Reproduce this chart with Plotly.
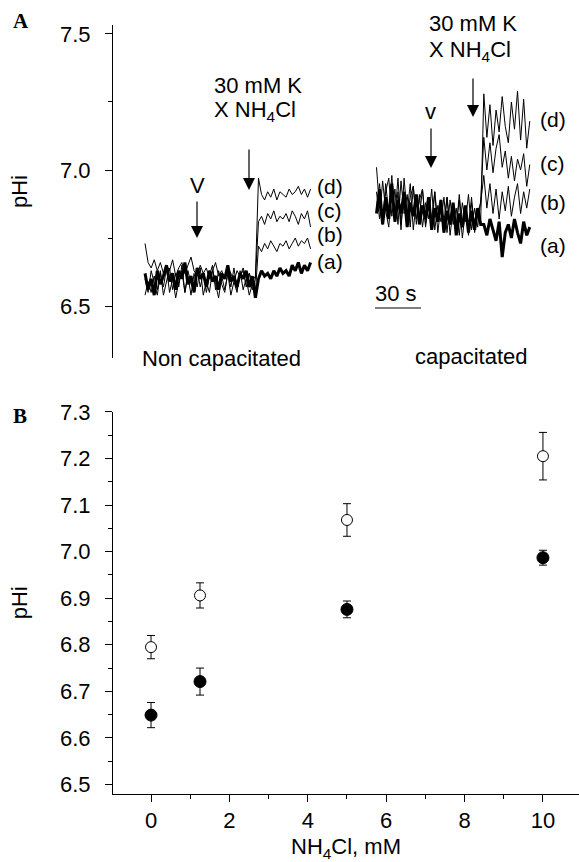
import plotly.graph_objects as go

# ---------------- data ----------------
# Panel A: pHi traces (sampled every 2 s); non capacitated
nc_a = [6.62, 6.56, 6.60, 6.54, 6.63, 6.58, 6.61, 6.65, 6.59, 6.62, 6.56, 6.63, 6.60, 6.66, 6.58, 6.61, 6.55, 6.64,
        6.60, 6.62, 6.57, 6.63, 6.59, 6.61, 6.56, 6.62, 6.60, 6.65, 6.59, 6.61, 6.57, 6.62, 6.60, 6.63, 6.57, 6.61, 6.53,
        6.60, 6.63, 6.61, 6.62, 6.60, 6.63, 6.61, 6.64, 6.62, 6.63, 6.61, 6.65, 6.63, 6.66, 6.62, 6.65, 6.63, 6.66]
nc_b = [6.60, 6.55, 6.63, 6.58, 6.54, 6.62, 6.57, 6.64, 6.55, 6.60, 6.53, 6.59, 6.63, 6.55, 6.61, 6.54, 6.62, 6.57,
        6.64, 6.54, 6.59, 6.55, 6.63, 6.58, 6.53, 6.61, 6.56, 6.62, 6.54, 6.59, 6.55, 6.63, 6.56, 6.60, 6.54, 6.58, 6.55,
        6.72, 6.70, 6.73, 6.71, 6.74, 6.72, 6.70, 6.73, 6.72, 6.74, 6.71, 6.73, 6.75, 6.72, 6.74, 6.73, 6.75, 6.71]
nc_c = [6.54, 6.59, 6.55, 6.61, 6.56, 6.63, 6.54, 6.59, 6.64, 6.56, 6.62, 6.57, 6.65, 6.55, 6.63, 6.58, 6.56, 6.64,
        6.57, 6.62, 6.55, 6.61, 6.65, 6.56, 6.63, 6.58, 6.55, 6.62, 6.57, 6.64, 6.56, 6.61, 6.63, 6.57, 6.62, 6.56, 6.60,
        6.81, 6.83, 6.80, 6.84, 6.82, 6.85, 6.81, 6.83, 6.82, 6.84, 6.81, 6.85, 6.83, 6.80, 6.84, 6.82, 6.85, 6.79]
nc_d = [6.73, 6.66, 6.64, 6.67, 6.63, 6.66, 6.62, 6.65, 6.63, 6.67, 6.61, 6.64, 6.66, 6.62, 6.65, 6.68, 6.63, 6.61,
        6.65, 6.62, 6.64, 6.60, 6.63, 6.66, 6.61, 6.63, 6.60, 6.64, 6.62, 6.59, 6.63, 6.61, 6.64, 6.60, 6.62, 6.59, 6.61,
        6.97, 6.91, 6.89, 6.92, 6.90, 6.93, 6.89, 6.92, 6.91, 6.90, 6.93, 6.91, 6.92, 6.94, 6.91, 6.93, 6.90, 6.93]

# capacitated
cap_a = [6.84, 6.93, 6.80, 6.90, 6.82, 6.95, 6.81, 6.89, 6.84, 6.92, 6.79, 6.88, 6.83, 6.91, 6.80, 6.87, 6.82, 6.90,
         6.78, 6.86, 6.81, 6.89, 6.77, 6.85, 6.80, 6.88, 6.76, 6.84, 6.79, 6.87, 6.77, 6.85, 6.78, 6.86, 6.80,
         6.80, 6.76, 6.82, 6.78, 6.74, 6.81, 6.68, 6.77, 6.80, 6.75, 6.82, 6.77, 6.73, 6.81, 6.76, 6.79]
cap_b = [6.92, 6.82, 6.96, 6.85, 6.79, 6.94, 6.83, 6.97, 6.80, 6.91, 6.84, 6.95, 6.78, 6.89, 6.83, 6.93, 6.79, 6.88,
         6.82, 6.92, 6.77, 6.87, 6.81, 6.90, 6.76, 6.86, 6.80, 6.89, 6.75, 6.85, 6.79, 6.90, 6.77, 6.84, 6.88,
         6.98, 6.86, 6.95, 6.84, 6.93, 6.82, 6.92, 6.85, 6.94, 6.83, 6.90, 6.95, 6.84, 6.92, 6.86, 6.93]
cap_c = [7.01, 6.86, 6.80, 6.95, 6.84, 6.98, 6.81, 6.92, 6.78, 6.97, 6.83, 6.90, 6.94, 6.80, 6.91, 6.79, 6.88, 6.82,
         6.93, 6.78, 6.87, 6.81, 6.90, 6.77, 6.89, 6.80, 6.86, 6.76, 6.88, 6.81, 6.91, 6.78, 6.86, 6.79, 6.89,
         7.12, 7.00, 7.10, 6.99, 7.08, 7.13, 7.01, 7.07, 6.97, 7.05, 6.96, 7.04, 7.00, 7.06, 6.94, 7.02]
cap_d = [6.86, 6.95, 6.81, 6.92, 6.97, 6.83, 6.93, 6.80, 6.96, 6.84, 6.91, 6.79, 6.94, 6.82, 6.89, 6.93, 6.80, 6.88,
         6.78, 6.92, 6.81, 6.89, 6.77, 6.90, 6.80, 6.87, 6.78, 6.91, 6.79, 6.86, 6.76, 6.88, 6.80, 6.85, 6.82,
         7.28, 7.12, 7.24, 7.09, 7.22, 7.14, 7.27, 7.16, 7.10, 7.25, 7.15, 7.29, 7.11, 7.26, 7.08, 7.18]

sample_dt = 2          # s between samples
cap_start = 151        # s, start of the capacitated record on the time axis
trace_labels = ["(a)", "(b)", "(c)", "(d)"]

# Panel B: pHi vs NH4Cl
nh4cl = [0, 1.25, 5, 10]
cap_mean = [6.795, 6.906, 7.068, 7.205]
cap_err = [0.025, 0.027, 0.035, 0.051]
noncap_mean = [6.649, 6.721, 6.876, 6.987]
noncap_err = [0.027, 0.029, 0.018, 0.016]

# ---------------- figure ----------------
W, H = 579, 862
FONT = "Liberation Sans, Arial, sans-serif"


def fx(px):
    return px / W


def fy(py):
    return 1 - py / H


fig = go.Figure()

nc_traces = [nc_a, nc_b, nc_c, nc_d]
cap_traces = [cap_a, cap_b, cap_c, cap_d]
for lbl, vals in zip(trace_labels[::-1], nc_traces[::-1]):
    thick = lbl == "(a)"
    fig.add_trace(go.Scatter(
        x=[i * sample_dt for i in range(len(vals))], y=vals, mode="lines",
        line=dict(color="black", width=3 if thick else 1),
        name="Non capacitated " + lbl, xaxis="x", yaxis="y", hoverinfo="skip"))
for lbl, vals in zip(trace_labels[::-1], cap_traces[::-1]):
    thick = lbl == "(a)"
    fig.add_trace(go.Scatter(
        x=[cap_start + i * sample_dt for i in range(len(vals))], y=vals, mode="lines",
        line=dict(color="black", width=3 if thick else 1),
        name="capacitated " + lbl, xaxis="x", yaxis="y", hoverinfo="skip"))

# Panel B
fig.add_trace(go.Scatter(
    x=nh4cl, y=noncap_mean, mode="markers", name="non capacitated",
    marker=dict(symbol="circle", size=12, color="black", line=dict(color="black", width=1)),
    error_y=dict(type="data", array=noncap_err, color="black", thickness=1, width=4),
    xaxis="x2", yaxis="y2"))
fig.add_trace(go.Scatter(
    x=nh4cl, y=cap_mean, mode="markers", name="capacitated",
    marker=dict(symbol="circle", size=11, color="white", line=dict(color="black", width=1)),
    error_y=dict(type="data", array=cap_err, color="black", thickness=1, width=4),
    xaxis="x2", yaxis="y2"))

ann = []


def text(px, py, s, size=22, xanchor="center", family=FONT):
    ann.append(dict(x=fx(px), y=fy(py), xref="paper", yref="paper", text=s, showarrow=False,
                    xanchor=xanchor, yanchor="middle", font=dict(family=family, size=size, color="black")))


def arrow(px, py_tip, length):
    ann.append(dict(x=fx(px), y=fy(py_tip), xref="paper", yref="paper", text="", showarrow=True,
                    ax=0, ay=-length, arrowhead=2, arrowsize=2, arrowwidth=1.2, arrowcolor="black"))


text(21, 21, "<b>A</b>", size=21, family="Liberation Serif, Times New Roman, serif")
text(20, 416, "<b>B</b>", size=21, family="Liberation Serif, Times New Roman, serif")

# non capacitated annotations
text(212, 86, "30 mM K", xanchor="left")
text(212, 111, "X NH<sub>4</sub>Cl", xanchor="left")
arrow(249, 190, 42)
text(197, 185, "V", size=22)
arrow(197, 238, 38)
for lbl, py in zip(trace_labels, [261, 234, 210, 186]):
    text(315, py, lbl, size=21, xanchor="left")

# capacitated annotations
text(427, 24, "30 mM K", xanchor="left")
text(427, 51, "X NH<sub>4</sub>Cl", xanchor="left")
arrow(473, 117, 40)
text(430, 111, "v", size=22)
arrow(431, 168, 41)
for lbl, py in zip(trace_labels, [245, 202, 163, 120]):
    text(538, py, lbl, size=21, xanchor="left")

text(396, 293, "30 s")
text(221, 358, "Non capacitated")
text(471, 356, "capacitated")

fig.add_shape(type="line", xref="x", yref="y", x0=cap_start - 1, x1=cap_start + 29, y0=6.4926, y1=6.4926,
              line=dict(color="#555555", width=1.5))

axis_font = dict(family=FONT, size=22, color="black")

fig.update_layout(
    width=W, height=H, margin=dict(l=0, r=0, t=0, b=0),
    paper_bgcolor="white", plot_bgcolor="white", showlegend=False,
    font=dict(family=FONT, size=22, color="black"),
    annotations=ann,
    xaxis=dict(domain=[fx(113), 1], range=[-20.9, 283.1], visible=False, anchor="y"),
    yaxis=dict(domain=[fy(358), fy(25)], range=[6.309, 7.533], anchor="x",
               tick0=6.5, dtick=0.5, tickformat=".1f", ticks="outside", ticklen=7, tickwidth=1,
               tickcolor="black", showline=True, linecolor="black", linewidth=1,
               showgrid=False, zeroline=False, tickfont=axis_font, ticklabelstandoff=10,
               minor=dict(dtick=0.25, ticks="outside", ticklen=4, tickcolor="black"),
               title=dict(text="pHi", font=axis_font, standoff=26), automargin=False),
    xaxis2=dict(domain=[fx(113), 1], range=[-0.97, 10.92], anchor="y2",
                tick0=0, dtick=2, ticks="outside", ticklen=7, tickwidth=1, tickcolor="black",
                showline=True, linecolor="black", linewidth=1, showgrid=False, zeroline=False,
                tickfont=axis_font, ticklabelstandoff=0,
                minor=dict(dtick=1, ticks="outside", ticklen=4, tickcolor="black"),
                title=dict(text="NH<sub>4</sub>Cl, mM", font=axis_font, standoff=12), automargin=False),
    yaxis2=dict(domain=[fy(794), fy(411.7)], range=[6.4796, 7.3005], anchor="x2",
                tick0=6.5, dtick=0.1, tickformat=".1f", ticks="outside", ticklen=7, tickwidth=1,
                tickcolor="black", showline=True, linecolor="black", linewidth=1,
                showgrid=False, zeroline=False, tickfont=axis_font, ticklabelstandoff=10,
                minor=dict(dtick=0.05, ticks="outside", ticklen=4, tickcolor="black"),
                title=dict(text="pHi", font=axis_font, standoff=26), automargin=False),
)

fig.write_html("out.html")
